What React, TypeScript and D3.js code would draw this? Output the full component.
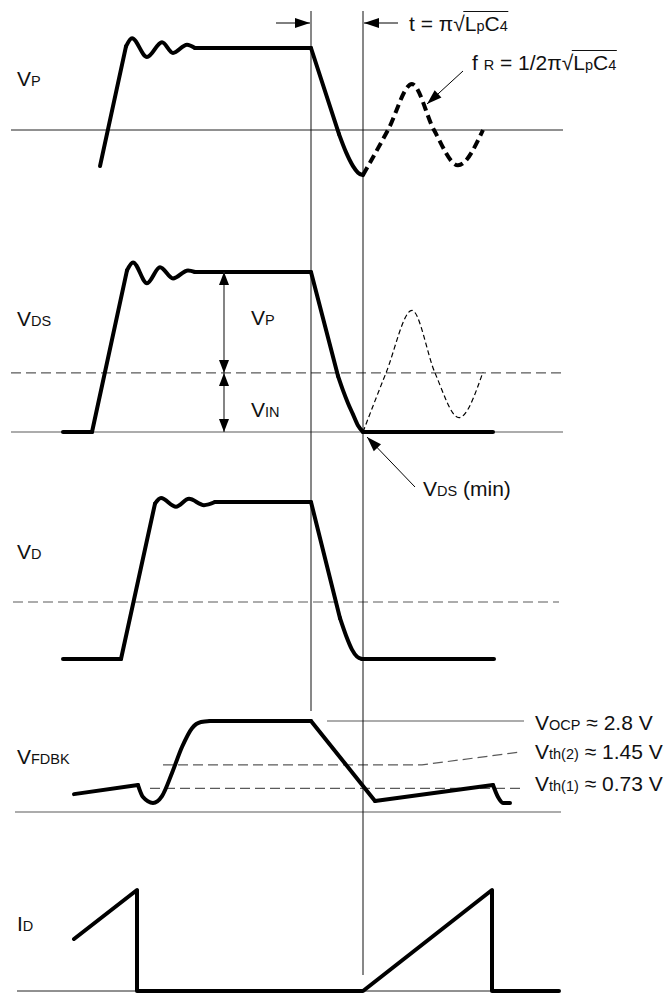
import React, { useEffect, useRef } from 'react';
import * as d3 from 'd3';

type Pt = [number, number];

// time axis is in arbitrary units; the two cursors
const tOff = 60;
const tValley = 70.4;

// V_P  (1 = flat-top level)
const vpRise: Pt[] = [[17.8, -0.44], [23, 1.02]];
const vpRing: Pt[] = [[23, 1.02], [24.2, 1.12], [27.2, 0.89], [30.2, 1.07], [32.4, 0.94], [35.2, 1.04], [36.8, 1]];
const vpFlat: Pt[] = [[36.8, 1], [60, 1]];
const vpFall: Pt[] = [[60, 1], [65.6, -0.05]];
const vpValley: Pt[] = [[65.6, -0.05], [67, -0.27], [68.4, -0.44], [69.4, -0.52], [70.4, -0.55]];
const vpResonance: Pt[] = [[70.4, -0.55], [75.4, 0], [80.2, 0.56], [84.6, 0], [89.4, -0.43], [94.4, 0]];

// V_DS
const vinLevel = 0.369;
const vdsLow: Pt[] = [[10.4, 0], [16.2, 0]];
const vdsRise: Pt[] = [[16.2, 0], [23.2, 1.01]];
const vdsRing: Pt[] = [[23.2, 1.01], [24.4, 1.06], [27.2, 0.93], [29.8, 1.03], [32.4, 0.96], [35.4, 1.01], [36.8, 1]];
const vdsFlat: Pt[] = [[36.8, 1], [60, 1]];
const vdsFall: Pt[] = [[60, 1], [65.4, 0.35]];
const vdsValley: Pt[] = [[65.4, 0.35], [66.4, 0.26], [67.4, 0.18], [68.4, 0.11], [69.4, 0.04], [70.4, 0]];
const vdsOffState: Pt[] = [[70.4, 0], [96.4, 0]];
const vdsResonance: Pt[] = [[70.4, 0], [75, 0.369], [80.2, 0.76], [84.8, 0.369], [89.6, 0.09], [94.4, 0.375]];

// V_D
const vdLevel = 0.363;
const vdLow: Pt[] = [[10.4, 0], [22, 0]];
const vdRise: Pt[] = [[22, 0], [28.8, 0.99]];
const vdRing: Pt[] = [[28.8, 0.99], [30, 1.025], [33, 0.97], [35.6, 1.02], [38.6, 0.98], [40.8, 1]];
const vdFlat: Pt[] = [[40.8, 1], [60, 1]];
const vdFall: Pt[] = [[60, 1], [65.8, 0.26]];
const vdValley: Pt[] = [[65.8, 0.26], [67, 0.15], [68.2, 0.06], [69.2, 0.015], [70.2, 0]];
const vdOffState: Pt[] = [[70.2, 0], [96.6, 0]];

// V_FDBK (volts)
const vOcp = 2.8;
const vTh2 = 1.45;
const vTh1 = 0.73;
const fbStart: Pt[] = [[12.6, 0.55], [25.4, 0.83]];
const fbBlanking: Pt[] = [[25.4, 0.83], [26.4, 0.46], [28.4, 0.28], [30.2, 0.49], [32.2, 1.2], [34.2, 2.0], [36.2, 2.58], [38, 2.77], [39.8, 2.8]];
const fbFlat: Pt[] = [[39.8, 2.8], [60, 2.8]];
const fbFall: Pt[] = [[60, 2.8], [72.8, 0.34]];
const fbRamp: Pt[] = [[72.8, 0.34], [96.4, 0.83]];
const fbBlanking2: Pt[] = [[96.4, 0.83], [97.4, 0.46], [98.4, 0.28], [99.8, 0.28]];
const th2Line: Pt[] = [[30.4, 1.45], [82.2, 1.45], [102, 1.85]];
const th1Line: Pt[] = [[27.8, 0.73], [102.4, 0.73]];
const ocpLine: Pt[] = [[63.2, 2.8], [102.6, 2.8]];

// I_D (normalised peak)
const idWave: Pt[] = [[12.6, 0.515], [25.2, 1], [25.2, 0], [70.4, 0], [96.2, 1], [96.2, 0], [109.6, 0]];

const x = d3.scaleLinear().domain([0, 110]).range([11, 561]);
const yVp = d3.scaleLinear().domain([0, 1]).range([130, 48]);
const yVds = d3.scaleLinear().domain([0, 1]).range([432, 272]);
const yVd = d3.scaleLinear().domain([0, 1]).range([659, 502]);
const yFb = d3.scaleLinear().domain([0, vOcp]).range([812, 721]);
const yId = d3.scaleLinear().domain([0, 1]).range([991, 890]);

const FONT = "'Liberation Sans', Arial, Helvetica, sans-serif";
const FS = 21;
const SUB = 14.5;

function linePath(y: d3.ScaleLinear<number, number>, pts: Pt[], smooth = false) {
  const gen = d3.line<Pt>().x(d => x(d[0])).y(d => y(d[1]));
  if (smooth) gen.curve(d3.curveMonotoneX);
  return gen(pts) || '';
}

function head(tip: Pt, from: Pt, len = 14, half = 5) {
  const dx = tip[0] - from[0], dy = tip[1] - from[1];
  const d = Math.hypot(dx, dy);
  const ux = dx / d, uy = dy / d;
  const bx = tip[0] - ux * len, by = tip[1] - uy * len;
  return `M${tip[0]},${tip[1]}L${bx - uy * half},${by + ux * half}L${bx + uy * half},${by - ux * half}Z`;
}

function Arrow({ from, to, len = 14, half = 5, color = '#000', width = 1 }: { from: Pt; to: Pt; len?: number; half?: number; color?: string; width?: number }) {
  return (
    <g>
      <line x1={from[0]} y1={from[1]} x2={to[0]} y2={to[1]} stroke={color} strokeWidth={width} />
      <path d={head(to, from, len, half)} fill={color} />
    </g>
  );
}

function Label({ x: lx, y: ly, main, sub, rest }: { x: number; y: number; main: string; sub: string; rest?: string }) {
  return (
    <text x={lx} y={ly} fontSize={FS} fontFamily={FONT} fill="#111">
      <tspan>{main}</tspan>
      <tspan fontSize={SUB}>{sub}</tspan>
      {rest ? <tspan>{rest}</tspan> : null}
    </text>
  );
}

type Seg = { y: d3.ScaleLinear<number, number>; pts: Pt[]; smooth?: boolean };

const solidSegs: Seg[] = [
  { y: yVp, pts: vpRise }, { y: yVp, pts: vpRing, smooth: true }, { y: yVp, pts: vpFlat },
  { y: yVp, pts: vpFall }, { y: yVp, pts: vpValley, smooth: true },
  { y: yVds, pts: vdsLow }, { y: yVds, pts: vdsRise }, { y: yVds, pts: vdsRing, smooth: true },
  { y: yVds, pts: vdsFlat }, { y: yVds, pts: vdsFall }, { y: yVds, pts: vdsValley, smooth: true },
  { y: yVds, pts: vdsOffState },
  { y: yVd, pts: vdLow }, { y: yVd, pts: vdRise }, { y: yVd, pts: vdRing, smooth: true },
  { y: yVd, pts: vdFlat }, { y: yVd, pts: vdFall }, { y: yVd, pts: vdValley, smooth: true },
  { y: yVd, pts: vdOffState },
  { y: yFb, pts: fbStart }, { y: yFb, pts: fbBlanking, smooth: true }, { y: yFb, pts: fbFlat },
  { y: yFb, pts: fbFall }, { y: yFb, pts: fbRamp }, { y: yFb, pts: fbBlanking2, smooth: true },
  { y: yId, pts: idWave },
];

export default function App() {
  const ref = useRef<SVGSVGElement>(null);

  useEffect(() => {
    // overbar of the radical, measured from the rendered glyphs
    d3.select(ref.current).selectAll<SVGTextElement, unknown>('text.radical').each(function () {
      const txt = this.textContent || '';
      const i = txt.indexOf('√');
      const start = this.getEndPositionOfChar(i);
      const end = this.getEndPositionOfChar(txt.length - 1);
      const yy = +(this.getAttribute('y') || 0) - 19.5;
      d3.select(this.parentNode as SVGGElement).select('line.overbar')
        .attr('x1', start.x - 1.5).attr('x2', end.x + 0.5).attr('y1', yy).attr('y2', yy);
    });
  }, []);

  const gray = '#5a5a5a';
  const xDim = x(42.6);

  return (
    <div style={{ position: 'absolute', left: 0, top: 0 }}>
      <svg ref={ref} width={672} height={994} style={{ display: 'block', background: '#fff' }}>
        {/* reference levels */}
        <line x1={x(0)} x2={x(110.4)} y1={yVp(0)} y2={yVp(0)} stroke="#222" strokeWidth={1} />
        <line x1={x(0)} x2={x(110.4)} y1={yVds(0)} y2={yVds(0)} stroke={gray} strokeWidth={1.2} />
        <line x1={x(0)} x2={x(110.4)} y1={yVds(vinLevel)} y2={yVds(vinLevel)} stroke={gray} strokeWidth={1.2} strokeDasharray="10,5" />
        <line x1={x(0.4)} x2={x(109.6)} y1={yVd(vdLevel)} y2={yVd(vdLevel)} stroke={gray} strokeWidth={1.2} strokeDasharray="10,5" />
        <line x1={x(0.8)} x2={x(110)} y1={yFb(0)} y2={yFb(0)} stroke={gray} strokeWidth={1.2} />
        <path d={linePath(yFb, ocpLine)} stroke={gray} strokeWidth={1.2} fill="none" />
        <path d={linePath(yFb, th2Line)} stroke={gray} strokeWidth={1.2} fill="none" strokeDasharray="10,5" />
        <path d={linePath(yFb, th1Line)} stroke={gray} strokeWidth={1.2} fill="none" strokeDasharray="10,5" />
        <line x1={x(1.2)} x2={x(109.6)} y1={yId(0)} y2={yId(0)} stroke="#222" strokeWidth={1} />

        {/* cursors */}
        <line x1={x(tOff)} x2={x(tOff)} y1={11} y2={711} stroke="#111" strokeWidth={1} />
        <line x1={x(tValley)} x2={x(tValley)} y1={11} y2={975} stroke="#111" strokeWidth={1} />

        {/* waveforms */}
        {solidSegs.map((s, i) => (
          <path key={i} d={linePath(s.y, s.pts, s.smooth)} fill="none" stroke="#000" strokeWidth={4}
            strokeLinecap="round" strokeLinejoin="round" />
        ))}
        <path d={linePath(yVp, vpResonance, true)} fill="none" stroke="#000" strokeWidth={4} strokeDasharray="9,5" />
        <path d={linePath(yVds, vdsResonance, true)} fill="none" stroke="#000" strokeWidth={1.2} strokeDasharray="5,3" />

        {/* timing arrows */}
        <Arrow from={[x(tOff) - 35, 23]} to={[x(tOff) - 1, 23]} len={15} half={5} />
        <Arrow from={[x(tValley) + 35, 23]} to={[x(tValley) + 1, 23]} len={15} half={5} />

        {/* V_P / V_IN dimensions */}
        <line x1={xDim} x2={xDim} y1={yVds(1)} y2={yVds(0)} stroke="#333" strokeWidth={1.2} />
        <path d={head([xDim, yVds(1)], [xDim, yVds(1) + 20], 13, 5)} fill="#000" />
        <path d={head([xDim, yVds(vinLevel)], [xDim, yVds(vinLevel) - 20], 13, 5)} fill="#000" />
        <path d={head([xDim, yVds(vinLevel)], [xDim, yVds(vinLevel) + 20], 13, 5)} fill="#000" />
        <path d={head([xDim, yVds(0)], [xDim, yVds(0) - 20], 13, 5)} fill="#000" />
        <Label x={251} y={325} main="V" sub="P" />
        <Label x={251} y={417} main="V" sub="IN" />

        {/* pointer arrows */}
        <Arrow from={[463, 71]} to={[427, 104]} len={15} half={5} />
        <Arrow from={[415, 487]} to={[367, 437]} len={15} half={5} />
        <Label x={423} y={496} main="V" sub="DS" rest=" (min)" />

        {/* formulas */}
        <g>
          <text className="radical" x={409} y={31} fontSize={FS} fontFamily={FONT} fill="#111">
            <tspan>t = π√L</tspan><tspan fontSize={SUB}>p</tspan><tspan>C</tspan><tspan fontSize={SUB}>4</tspan>
          </text>
          <line className="overbar" stroke="#111" strokeWidth={1.2} />
        </g>
        <g>
          <text className="radical" x={472} y={70} fontSize={FS} fontFamily={FONT} fill="#111">
            <tspan>f </tspan><tspan fontSize={SUB}>R</tspan><tspan> = 1/2π√L</tspan><tspan fontSize={SUB}>p</tspan><tspan>C</tspan><tspan fontSize={SUB}>4</tspan>
          </text>
          <line className="overbar" stroke="#111" strokeWidth={1.2} />
        </g>

        {/* trace names */}
        <Label x={17} y={86} main="V" sub="P" />
        <Label x={17} y={326} main="V" sub="DS" />
        <Label x={17} y={559} main="V" sub="D" />
        <Label x={17} y={764} main="V" sub="FDBK" />
        <Label x={17} y={931} main="I" sub="D" />

        {/* threshold labels */}
        <Label x={535} y={730} main="V" sub="OCP" rest=" ≈ 2.8 V" />
        <Label x={535} y={759} main="V" sub="th(2)" rest=" ≈ 1.45 V" />
        <Label x={535} y={791} main="V" sub="th(1)" rest=" ≈ 0.73 V" />
      </svg>
    </div>
  );
}
